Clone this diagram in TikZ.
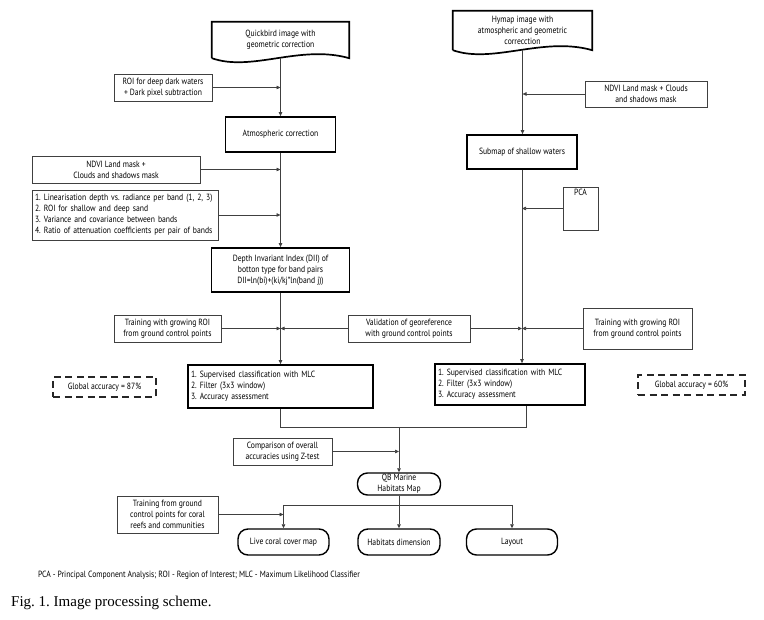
\documentclass[tikz,border=0pt]{standalone}
\usepackage{fontspec}
\setmainfont{Liberation Serif}
\newfontfamily\dfont[FakeStretch=0.85]{PT Sans}
\usetikzlibrary{arrows.meta}
\frenchspacing
\begin{document}
\begin{tikzpicture}[x=1pt,y=-1pt,
  every node/.style={font=\dfont\fontsize{9}{11}\selectfont, inner sep=1pt},
  mainbox/.style={draw=black, line width=1.7pt, fill=white, align=center, minimum width=#1},
  sidebox/.style={draw=black!75, line width=0.7pt, fill=white, align=center, minimum width=#1},
  gacc/.style={draw=black!85, line width=1.7pt, dash pattern=on 7pt off 4.5pt, minimum width=#1, minimum height=20pt},
  roundbox/.style={draw=black, line width=1.4pt, rounded corners=10pt, align=center, minimum width=#1, minimum height=24pt},
  docline/.style={draw=black, line width=1.7pt},
  conn/.style={draw=black!75, line width=0.7pt},
  arr/.style={conn, -{Triangle[length=4pt,width=3.5pt]}}]
\useasboundingbox (0,0) rectangle (764,620);

% documents
\node[minimum width=137pt, minimum height=36pt, align=center] (qb) at (280.5,40) {Quickbird image with\\geometric correction};
\draw[docline] (qb.south west) -- (qb.north west) -- (qb.north east) -- (qb.south east)
  .. controls ([xshift=-49pt,yshift=14pt]qb.south east) and ([xshift=40pt,yshift=-14pt]qb.south west) .. (qb.south west);
\node[minimum width=139pt, minimum height=39pt, align=center] (hy) at (522.5,30.5) {Hymap image with\\atmospheric and geometric\\correcction};
\draw[docline] (hy.south west) -- (hy.north west) -- (hy.north east) -- (hy.south east)
  .. controls ([xshift=-49pt,yshift=14pt]hy.south east) and ([xshift=40pt,yshift=-14pt]hy.south west) .. (hy.south west);

% left column
\node[sidebox=98pt, minimum height=27pt] (roi) at (163,87.5) {ROI for deep dark waters\\+ Dark pixel subtraction};
\node[mainbox=110pt, minimum height=35pt] (atm) at (280.5,134.5) {Atmospheric correction};
\node[sidebox=168pt, minimum height=27pt] (ndvia) at (116,169.5) {NDVI Land mask +\\Clouds and shadows mask};
\node[sidebox=186pt, minimum height=50pt, align=left, text width=180pt] (lin) at (125,215) {1. Linearisation depth vs. radiance per band (1, 2, 3)\\2. ROI for shallow and deep sand\\3. Variance and covariance between bands\\4. Ratio of attenuation coefficients per pair of bands};
\node[mainbox=138pt, minimum height=44pt] (dii) at (280.5,270) {Depth Invariant Index (DII) of\\botton type for band pairs\\DII=ln(bi)+(ki/kj*ln(band j))};
\node[sidebox=107pt, minimum height=27pt] (tra) at (167.5,328.5) {Training with growing ROI\\from ground control points};
\node[sidebox=122pt, minimum height=27pt] (val) at (409,328.5) {Validation of georeference\\with ground control points};
\node[mainbox=185pt, minimum height=43pt, align=left, text width=179pt] (clsa) at (280.5,386.5) {1. Supervised classification with MLC\\2. Filter (3x3 window)\\3. Accuracy assessment};
\node[gacc=103pt] (gaa) at (104.5,387) {Global accuracy = 87\%};

% right column
\node[sidebox=122pt, minimum height=26pt] (ndvib) at (646,94) {NDVI Land mask + Clouds\\and shadows mask};
\node[mainbox=110pt, minimum height=34pt] (sub) at (522,152) {Submap of shallow waters};
\node[sidebox=35pt, minimum height=43pt, label={[name=pcat, anchor=north, yshift=-1pt]north:PCA}] (pca) at (580.5,208.5) {};
\node[sidebox=109pt, minimum height=41pt] (trb) at (637.5,328.5) {Training with growing ROI\\from ground control points};
\node[mainbox=150pt, minimum height=41pt, align=left, text width=144pt] (clsb) at (510,384.5) {1. Supervised classification with MLC\\2. Filter (3x3 window)\\3. Accuracy assessment};
\node[gacc=107pt] (gab) at (691.5,385) {Global accuracy = 60\%};

% bottom
\node[sidebox=99pt, minimum height=27pt] (cmp) at (282.5,451.5) {Comparison of overall\\accuracies using Z-test};
\node[roundbox=83pt, minimum height=22pt] (qbm) at (399,484) {QB Marine\\Habitats Map};
\node[sidebox=101pt, minimum height=37pt] (trc) at (167.5,514.5) {Training from ground\\control points for coral\\reefs and communities};
\node[roundbox=91pt, minimum height=26pt] (live) at (283.5,542) {Live coral cover map};
\node[roundbox=82pt, minimum height=26pt] (hab) at (399,542) {Habitats dimension};
\node[roundbox=91pt, minimum height=26pt] (lay) at (512,542) {Layout};

\node[anchor=center] (foot) at (199,575) {PCA - Principal Component Analysis; ROI - Region of Interest; MLC - Maximum Likelihood Classifier};
\node[anchor=west, font=\rmfamily\fontsize{15}{17}\selectfont] (cap) at (10,603) {Fig. 1. Image processing scheme.};

% connectors left
\draw[arr] (qb.south) -- (atm.north);
\draw[arr] (roi.east) -- (roi.east -| atm.north);
\draw[arr] (atm.south) -- (dii.north);
\draw[arr] (ndvia.east) -- (ndvia.east -| dii.north);
\draw[arr] (lin.east) -- (lin.east -| dii.north);
\draw[arr] (dii.south) -- (clsa.north);
\draw[arr] (tra.east) -- (tra.east -| dii.south);
\draw[arr] (val.west) -- (val.west -| dii.south);
% connectors right
\draw[arr] (hy.south) -- (hy.south |- sub.north);
\draw[arr] (ndvib.west) -- (ndvib.west -| hy.south);
\draw[arr] (sub.south) -- (sub.south |- clsb.north);
\draw[arr] (pca.west) -- (pca.west -| sub.south);
\draw[arr] (val.east) -- (val.east -| sub.south);
\draw[arr] (trb.west) -- (trb.west -| sub.south);
% merge
\coordinate (j) at (399,427);
\draw[conn] (clsa.south) |- (j);
\draw[conn] ([xshift=16pt]clsb.south) |- (j);
\draw[arr] (j) -- (qbm.north);
\draw[arr] (cmp.east) -- (cmp.east -| qbm.north);
\coordinate (k) at (399,505);
\draw[conn] (qbm.south) -- (k);
\draw[arr] (k) -- (hab.north);
\draw[conn] (k -| live.north) -- (k -| lay.north);
\draw[arr] (k -| live.north) -- (live.north);
\draw[arr] (k -| lay.north) -- (lay.north);
\draw[arr] (trc.east) -- (trc.east -| live.north);
\end{tikzpicture}
\end{document}
